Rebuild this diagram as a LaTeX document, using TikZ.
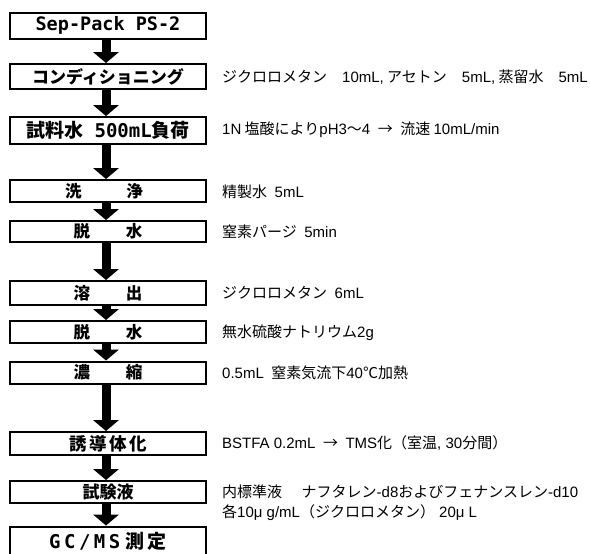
\documentclass[tikz,border=0pt]{standalone}
\usepackage{fontspec}
\newfontfamily\jp{Noto Sans CJK JP}
\newfontfamily\jpb{Noto Sans CJK JP}
\newfontfamily\mono{DejaVu Sans Mono}
\newfontfamily\latin{Liberation Sans}
\newcommand\la[1]{{\latin #1}}
\usetikzlibrary{arrows.meta}
\begin{document}
\begin{tikzpicture}[x=1pt,y=-1pt,
  stepbox/.style={draw,line width=2pt,minimum width=196pt,inner sep=0pt},
  cjkbox/.style={stepbox,font=\jpb\bfseries\fontsize{#1}{#1}\selectfont},
  flow/.style={line width=9pt,-{Triangle[width=26pt,length=11pt,line width=0pt]}},
  note/.style={anchor=west,inner sep=0pt,font=\jp\fontsize{15}{20}\selectfont}]
\useasboundingbox (0,0) rectangle (590,554);
\fill[white] (0,0) rectangle (590,554);

% boxes
\node[stepbox,minimum height=26pt,font=\mono\bfseries\fontsize{18.5}{18}\selectfont] (b1) at (108,25.5) {Sep-Pack PS-2};
\node[cjkbox=17,minimum height=25pt] (b2) at (108,76.5) {コンディショニング};
\node[cjkbox=19,minimum height=27pt] (b3) at (108,130.5) {試料水{\mono\bfseries\ 500mL}負荷};
\node[cjkbox=16.5,minimum height=22pt] (b4) at (108,191) {\hspace{-8pt}洗\hspace{45pt}浄};
\node[cjkbox=16.5,minimum height=21pt] (b5) at (108,231.5) {脱\hspace{36pt}水};
\node[cjkbox=16.5,minimum height=24pt] (b6) at (108,293) {溶\hspace{36pt}出};
\node[cjkbox=16.5,minimum height=22pt] (b7) at (108,332) {脱\hspace{36pt}水};
\node[cjkbox=16.5,minimum height=22pt] (b8) at (108,372.5) {濃\hspace{36pt}縮};
\node[cjkbox=17.5,minimum height=23pt] (b9) at (108,443.5) {誘\hspace{2.5pt}導\hspace{2.5pt}体\hspace{2.5pt}化};
\node[cjkbox=17,minimum height=22pt] (b10) at (108,492) {試験液};
\node[cjkbox=19,minimum height=29pt] (b11) at (108,541) {{\mono\bfseries G\hspace{3.5pt}C\hspace{3.5pt}/\hspace{3.5pt}M\hspace{3.5pt}S}\hspace{5pt}測\hspace{3.5pt}定};

% arrows
\foreach \a/\b in {b1/b2,b2/b3,b3/b4,b4/b5,b5/b6,b6/b7,b7/b8,b8/b9,b9/b10,b10/b11}
  \draw[flow] ([xshift=-2pt]\a.south) -- ([xshift=-2pt]\b.north);

% notes
\node[note] (t2) at (222,77) {ジクロロメタン\quad\la{10mL,} アセトン\quad\la{5mL,} 蒸留水\quad\la{5mL}};
\node[note] (t3) at (222,130) {\la{1N} 塩酸により\la{pH3}～\la{4}\enspace{}→\enspace{}流速 \la{10mL/min}};
\node[note] (t4) at (222,192) {精製水\enspace{}\la{5mL}};
\node[note] (t5) at (222,232) {窒素パージ\enspace{}\la{5min}};
\node[note] (t6) at (222,293) {ジクロロメタン\enspace{}\la{6mL}};
\node[note] (t7) at (222,333) {無水硫酸ナトリウム\la{2g}};
\node[note] (t8) at (222,373) {\la{0.5mL}\enspace{}窒素気流下\la{40}℃加熱};
\node[note] (t9) at (222,443) {\la{BSTFA 0.2mL}\enspace{}→\enspace{}\la{TMS}化（室温\la{, 30}分間）};
\node[note,align=left] (t10) at (222,503) {内標準液\hspace{1.3em}ナフタレン\la{-d8}およびフェナンスレン\la{-d10}\\各\la{10μ g/mL}（ジクロロメタン）\la{ 20μ L}};
\end{tikzpicture}
\end{document}
